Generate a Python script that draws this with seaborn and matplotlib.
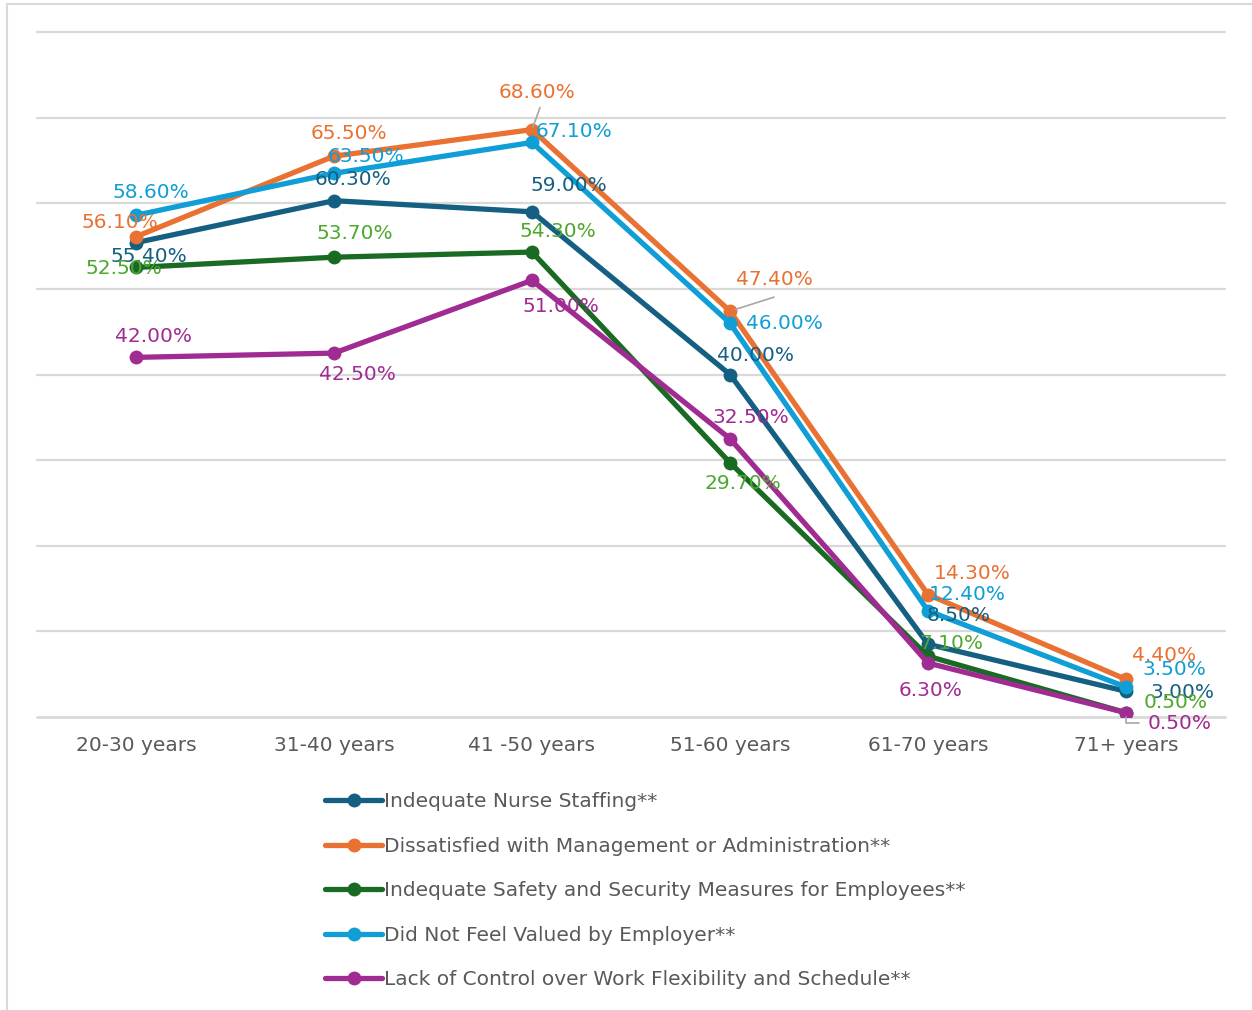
import matplotlib
matplotlib.use("Agg")
import matplotlib.pyplot as plt
import seaborn as sns
import pandas as pd
from matplotlib.lines import Line2D

categories = ["20-30 years", "31-40 years", "41 -50 years", "51-60 years", "61-70 years", "71+ years"]
series_names = [
    "Indequate Nurse Staffing**",
    "Dissatisfied with Management or Administration**",
    "Indequate Safety and Security Measures for Employees**",
    "Did Not Feel Valued by Employer**",
    "Lack of Control over Work Flexibility and Schedule**",
]
staffing = [55.4, 60.3, 59.0, 40.0, 8.5, 3.0]
management = [56.1, 65.5, 68.6, 47.4, 14.3, 4.4]
safety = [52.5, 53.7, 54.3, 29.7, 7.1, 0.5]
valued = [58.6, 63.5, 67.1, 46.0, 12.4, 3.5]
control = [42.0, 42.5, 51.0, 32.5, 6.3, 0.5]
all_values = [staffing, management, safety, valued, control]

line_colors = ["#156082", "#E97132", "#196B24", "#0F9ED5", "#A02B93"]
label_colors = ["#156082", "#E97132", "#4EA72E", "#0F9ED5", "#A02B93"]

# label offsets in pixels (dx, dy up) relative to the point
offsets = [
    [(13, -14), (19, 21), (37, 26), (25, 19), (31, 29), (56, -1)],
    [(-16, 14), (15, 23), (5, 37), (44, 32), (44, 21), (38, 24)],
    [(-12, -1), (21, 24), (26, 21), (13, -21), (23, 13), (50, 10)],
    [(15, 23), (32, 17), (42, 11), (54, 0), (39, 16), (48, 18)],
    [(17, 21), (23, -21), (29, -26), (21, 21), (3, -27), (54, -11)],
]

rows = []
for name, vals in zip(series_names, all_values):
    for i, (c, v) in enumerate(zip(categories, vals)):
        rows.append({"Series": name, "Age": c, "idx": i, "Value": v})
df = pd.DataFrame(rows)

sns.set_theme(style="white")
plt.rcParams["font.family"] = ["DejaVu Sans"]

fig = plt.figure(figsize=(12.52, 10.10), dpi=100)
ax = fig.add_axes([37 / 1252, 1 - 717 / 1010, (1225 - 37) / 1252, (717 - 32) / 1010])

for y in range(10, 90, 10):
    ax.axhline(y, color="#D9D9D9", lw=1.6, zorder=0, clip_on=False)
ax.axhline(0, color="#D9D9D9", lw=2.0, zorder=0, clip_on=False)

sns.lineplot(data=df, x="idx", y="Value", hue="Series", hue_order=series_names,
             palette=line_colors, marker="o", markersize=10, linewidth=3.8,
             markeredgewidth=0, sort=False, legend=False, ax=ax)

for s, vals in enumerate(all_values):
    for i, v in enumerate(vals):
        dx, dy = offsets[s][i]
        ax.annotate(f"{v:.2f}%", xy=(i, v), xytext=(dx, dy), textcoords="offset pixels",
                    ha="center", va="center", fontsize=14.5, color=label_colors[s], zorder=10)

# leader lines
ax.annotate("", xy=(2, 68.6), xytext=(8, 22), textcoords="offset pixels", xycoords="data",
            arrowprops=dict(arrowstyle="-", color="#A6A6A6", lw=1.2, shrinkA=0, shrinkB=2))
ax.annotate("", xy=(3, 47.4), xytext=(44, 14), textcoords="offset pixels",
            arrowprops=dict(arrowstyle="-", color="#A6A6A6", lw=1.2, shrinkA=0, shrinkB=4))
ax.annotate("", xy=(5, 0.5), xytext=(13, -10), textcoords="offset pixels",
            arrowprops=dict(arrowstyle="-", color="#A6A6A6", lw=1.2, shrinkA=0, shrinkB=3,
                            connectionstyle="angle,angleA=0,angleB=90,rad=0"))

ax.set_xlim(-0.5, 5.5)
ax.set_ylim(0, 80)
ax.set_xticks(range(len(categories)))
ax.set_xticklabels(categories, fontsize=14.5, color="#595959")
ax.tick_params(axis="x", length=0, pad=14)
ax.set_yticks([])
ax.set_xlabel("")
ax.set_ylabel("")
for sp in ax.spines.values():
    sp.set_visible(False)

handles = [Line2D([0], [0], color=c, lw=3.8, marker="o", markersize=10, markeredgewidth=0)
           for c in line_colors]
leg = fig.legend(handles, series_names, loc="upper left",
                 bbox_to_anchor=(325 / 1252, 1 - 792 / 1010), frameon=False,
                 fontsize=14.5, handlelength=2.85, handletextpad=0.1, labelspacing=1.27,
                 borderpad=0, borderaxespad=0)
for t in leg.get_texts():
    t.set_color("#595959")

# outer frame
fig.add_artist(Line2D([7 / 1252, 7 / 1252], [0, 1 - 4 / 1010], transform=fig.transFigure,
                      color="#D9D9D9", lw=1.5))
fig.add_artist(Line2D([7 / 1252, 1], [1 - 4 / 1010, 1 - 4 / 1010], transform=fig.transFigure,
                      color="#D9D9D9", lw=1.5))

fig.savefig("out.png", dpi=100, facecolor="white")
